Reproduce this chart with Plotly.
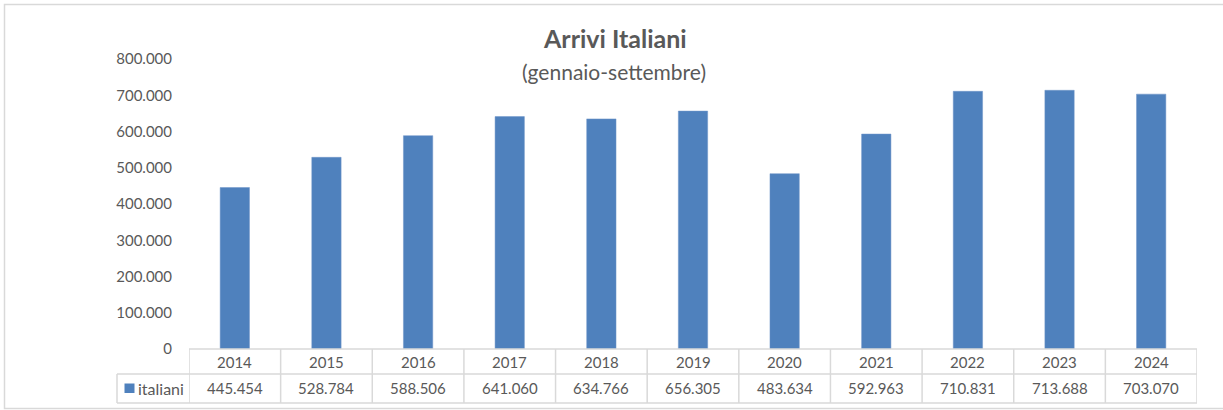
import plotly.graph_objects as go

# ---- data ----
years = ["2014", "2015", "2016", "2017", "2018", "2019", "2020", "2021", "2022", "2023", "2024"]
italiani = [445454, 528784, 588506, 641060, 634766, 656305, 483634, 592963, 710831, 713688, 703070]
series_name = "italiani"
title_text = "Arrivi Italiani"
subtitle_text = "(gennaio-settembre)"
y_ticks = [0, 100000, 200000, 300000, 400000, 500000, 600000, 700000, 800000]

W, H = 1223, 410
L, R, T, B = 189, 1197, 59, 349  # plot area pixels
PW, PH = R - L, B - T

def px(x):
    return (x - L) / PW

def py(y):
    return (B - y) / PH

def fmt(v):
    return f"{v:,}".replace(",", ".")

BAR = "#4f81bd"
GRID = "#d9d9d9"
TXT = "#595959"
FONT = "Lato"
FS = 15

xs = list(range(len(years)))

fig = go.Figure()
fig.add_trace(go.Bar(
    x=xs, y=italiani, name=series_name,
    marker=dict(color=BAR, line=dict(color="#6f95c9", width=0.5)),
    width=0.32, hoverinfo="y",
))

shapes = []
# outer chart border
shapes.append(dict(type="rect", xref="paper", yref="paper",
                   x0=px(4.5), x1=px(1240), y0=py(408.5), y1=py(4.5),
                   line=dict(color="#d9d9d9", width=1.5), fillcolor="rgba(0,0,0,0)", layer="below"))

y_top, y_mid, y_bot = py(349), py(374), py(403)
# horizontal table lines
shapes.append(dict(type="line", xref="paper", yref="paper", x0=0, x1=1, y0=y_top, y1=y_top,
                   line=dict(color=GRID, width=1.5)))
for yy in (y_mid, y_bot):
    shapes.append(dict(type="line", xref="paper", yref="paper", x0=px(117), x1=1, y0=yy, y1=yy,
                       line=dict(color=GRID, width=1.5)))
# vertical lines at category boundaries
for i in range(len(years) + 1):
    shapes.append(dict(type="line", xref="x", yref="paper", x0=i - 0.5, x1=i - 0.5,
                       y0=y_top, y1=y_bot, line=dict(color=GRID, width=1.5)))
# legend cell left edge
shapes.append(dict(type="line", xref="paper", yref="paper", x0=px(117), x1=px(117),
                   y0=y_mid, y1=y_bot, line=dict(color=GRID, width=1.5)))
# legend key square
shapes.append(dict(type="rect", xref="paper", yref="paper", x0=px(124.5), x1=px(134.5),
                   y0=py(393), y1=py(383.5), line=dict(width=0), fillcolor=BAR))

annotations = []
for i, (yr, v) in enumerate(zip(years, italiani)):
    annotations.append(dict(x=i, y=py(361.5), xref="x", yref="paper", text=yr, showarrow=False,
                            font=dict(family=FONT, size=FS, color=TXT), xanchor="center", yanchor="middle"))
    annotations.append(dict(x=i, y=py(388.5), xref="x", yref="paper", text=fmt(v), showarrow=False,
                            font=dict(family=FONT, size=FS, color=TXT), xanchor="center", yanchor="middle"))
annotations.append(dict(x=px(136), y=py(388.5), xref="paper", yref="paper", text=series_name,
                        showarrow=False, font=dict(family=FONT, size=16, color=TXT),
                        xanchor="left", yanchor="middle"))
annotations.append(dict(x=px(615), y=py(38), xref="paper", yref="paper", text="<b>" + title_text + "</b>",
                        showarrow=False, font=dict(family=FONT, size=25, color=TXT),
                        xanchor="center", yanchor="middle"))
annotations.append(dict(x=px(614), y=py(71.5), xref="paper", yref="paper", text=subtitle_text,
                        showarrow=False, font=dict(family=FONT, size=21, color=TXT),
                        xanchor="center", yanchor="middle"))

fig.update_layout(
    width=W, height=H,
    margin=dict(l=L, r=W - R, t=T, b=H - B, pad=0),
    paper_bgcolor="white", plot_bgcolor="white",
    showlegend=False,
    separators=",.",
    shapes=shapes, annotations=annotations,
    bargap=0.68,
    xaxis=dict(range=[-0.5, len(years) - 0.5], showticklabels=False, showgrid=False,
               zeroline=False, showline=False, ticks="", fixedrange=True),
    yaxis=dict(range=[0, 800000], tickvals=y_ticks, tickformat=",d", showgrid=False,
               zeroline=False, showline=False, ticks="", ticklabelstandoff=16,
               tickfont=dict(family=FONT, size=FS, color=TXT), fixedrange=True),
)

fig.write_html("out.html", config={"displayModeBar": False},
               post_script="document.body.style.margin='0';document.body.style.overflow='hidden';")
